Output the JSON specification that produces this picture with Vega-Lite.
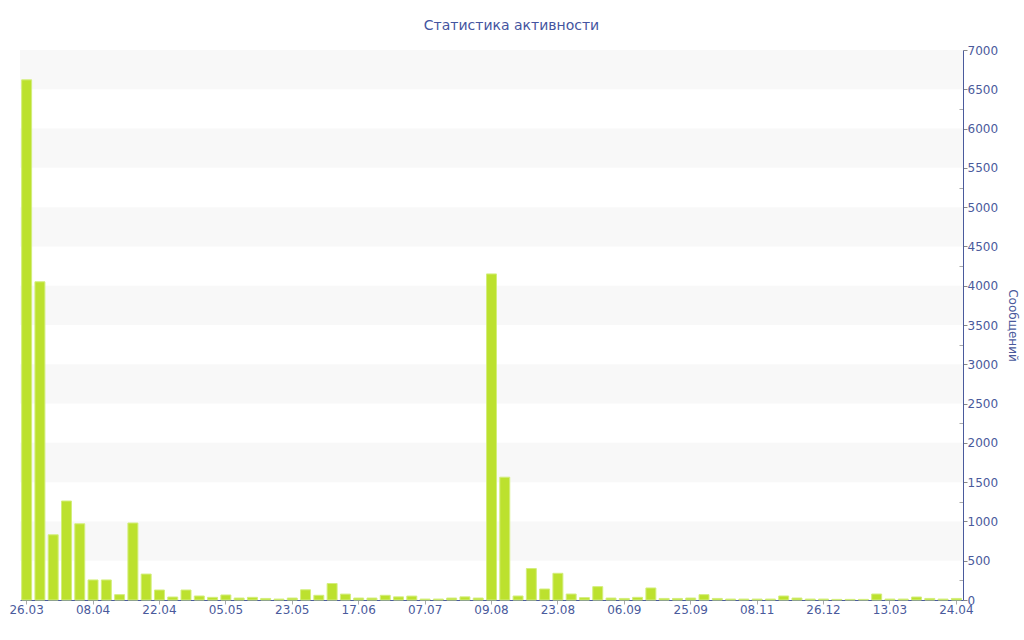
{
  "$schema": "https://vega.github.io/schema/vega-lite/v6.json",
  "width": 943,
  "height": 550,
  "autosize": {"type": "none"},
  "padding": {"left": 20, "top": 50, "right": 61, "bottom": 40},
  "background": "white",
  "title": {
    "text": "Статистика активности",
    "font": "DejaVu Sans",
    "fontSize": 14,
    "fontWeight": "normal",
    "color": "#4454a0",
    "offset": 11,
    "dx": 20
  },
  "config": {
    "view": {"stroke": null},
    "axis": {"labelFont": "DejaVu Sans", "titleFont": "DejaVu Sans"},
    "axisY": {
      "orient": "right",
      "labelOverlap": false,
      "grid": false,
      "domainColor": "#4a5a9c",
      "labelColor": "#4a5a9c",
      "labelFontSize": 12,
      "labelPadding": 0,
      "titleColor": "#4a5a9c",
      "titleFontSize": 12,
      "titleFontWeight": "normal",
      "titlePadding": 8
    }
  },
  "datasets": {
    "bands": [
      {"lo": 500, "hi": 1000},
      {"lo": 1500, "hi": 2000},
      {"lo": 2500, "hi": 3000},
      {"lo": 3500, "hi": 4000},
      {"lo": 4500, "hi": 5000},
      {"lo": 5500, "hi": 6000},
      {"lo": 6500, "hi": 7000}
    ],
    "msgs": [
      {"i": 0, "d": "26.03", "v": 6620},
      {"i": 1, "d": "#1", "v": 4050},
      {"i": 2, "d": "#2", "v": 830},
      {"i": 3, "d": "#3", "v": 1260},
      {"i": 4, "d": "#4", "v": 970},
      {"i": 5, "d": "08.04", "v": 255},
      {"i": 6, "d": "#6", "v": 255},
      {"i": 7, "d": "#7", "v": 68},
      {"i": 8, "d": "#8", "v": 980},
      {"i": 9, "d": "#9", "v": 330},
      {"i": 10, "d": "22.04", "v": 127},
      {"i": 11, "d": "#11", "v": 38},
      {"i": 12, "d": "#12", "v": 127},
      {"i": 13, "d": "#13", "v": 51},
      {"i": 14, "d": "#14", "v": 34},
      {"i": 15, "d": "05.05", "v": 64},
      {"i": 16, "d": "#16", "v": 25},
      {"i": 17, "d": "#17", "v": 34},
      {"i": 18, "d": "#18", "v": 20},
      {"i": 19, "d": "#19", "v": 12},
      {"i": 20, "d": "23.05", "v": 25},
      {"i": 21, "d": "#21", "v": 130},
      {"i": 22, "d": "#22", "v": 60},
      {"i": 23, "d": "#23", "v": 210},
      {"i": 24, "d": "#24", "v": 75},
      {"i": 25, "d": "17.06", "v": 25},
      {"i": 26, "d": "#26", "v": 25},
      {"i": 27, "d": "#27", "v": 60},
      {"i": 28, "d": "#28", "v": 40},
      {"i": 29, "d": "#29", "v": 50},
      {"i": 30, "d": "07.07", "v": 12},
      {"i": 31, "d": "#31", "v": 12},
      {"i": 32, "d": "#32", "v": 25},
      {"i": 33, "d": "#33", "v": 40},
      {"i": 34, "d": "#34", "v": 25},
      {"i": 35, "d": "09.08", "v": 4150},
      {"i": 36, "d": "#36", "v": 1563},
      {"i": 37, "d": "#37", "v": 51},
      {"i": 38, "d": "#38", "v": 400},
      {"i": 39, "d": "#39", "v": 140},
      {"i": 40, "d": "23.08", "v": 340},
      {"i": 41, "d": "#41", "v": 76},
      {"i": 42, "d": "#42", "v": 30},
      {"i": 43, "d": "#43", "v": 170},
      {"i": 44, "d": "#44", "v": 25},
      {"i": 45, "d": "06.09", "v": 20},
      {"i": 46, "d": "#46", "v": 34},
      {"i": 47, "d": "#47", "v": 153},
      {"i": 48, "d": "#48", "v": 20},
      {"i": 49, "d": "#49", "v": 20},
      {"i": 50, "d": "25.09", "v": 25},
      {"i": 51, "d": "#51", "v": 68},
      {"i": 52, "d": "#52", "v": 20},
      {"i": 53, "d": "#53", "v": 12},
      {"i": 54, "d": "#54", "v": 12},
      {"i": 55, "d": "08.11", "v": 12},
      {"i": 56, "d": "#56", "v": 12},
      {"i": 57, "d": "#57", "v": 51},
      {"i": 58, "d": "#58", "v": 25},
      {"i": 59, "d": "#59", "v": 12},
      {"i": 60, "d": "26.12", "v": 12},
      {"i": 61, "d": "#61", "v": 8},
      {"i": 62, "d": "#62", "v": 8},
      {"i": 63, "d": "#63", "v": 8},
      {"i": 64, "d": "#64", "v": 76},
      {"i": 65, "d": "13.03", "v": 12},
      {"i": 66, "d": "#66", "v": 12},
      {"i": 67, "d": "#67", "v": 38},
      {"i": 68, "d": "#68", "v": 20},
      {"i": 69, "d": "#69", "v": 12},
      {"i": 70, "d": "24.04", "v": 20}
    ]
  },
  "layer": [
    {
      "data": {"name": "bands"},
      "mark": {"type": "rect", "color": "#f8f8f8"},
      "encoding": {
        "y": {
          "field": "lo", "type": "quantitative",
          "scale": {"domain": [0, 7000], "nice": false},
          "axis": {
            "title": "Сообщений",
            "values": [0,250,500,750,1000,1250,1500,1750,2000,2250,2500,2750,3000,3250,3500,3750,4000,4250,4500,4750,5000,5250,5500,5750,6000,6250,6500,6750,7000],
            "labelExpr": "datum.value % 500 === 0 ? format(datum.value, 'd') : ''",
            "tickColor": {"condition": {"test": "datum.value % 500 === 0", "value": "#888888"}, "value": "#aaaaaa"},
            "tickSize": {"condition": {"test": "datum.value % 500 === 0", "value": 4}, "value": -4}
          }
        },
        "y2": {"field": "hi"}
      }
    },
    {
      "data": {"name": "msgs"},
      "mark": {"type": "bar", "fill": "#bce12e", "stroke": "#d3ee7c", "strokeWidth": 1},
      "encoding": {
        "x": {
          "field": "d", "type": "ordinal",
          "sort": {"field": "i"},
          "scale": {"paddingInner": 0.25},
          "axis": {
            "title": null,
            "values": ["26.03","08.04","22.04","05.05","23.05","17.06","07.07","09.08","23.08","06.09","25.09","08.11","26.12","13.03","24.04"],
            "labelAngle": 0,
            "domainColor": "#4a5a9c",
            "tickColor": "#aaaaaa",
            "tickSize": 4,
            "labelColor": "#4a5a9c",
            "labelFontSize": 12,
            "labelPadding": 0
          }
        },
        "y": {
          "field": "v", "type": "quantitative",
          "axis": {
            "title": "Сообщений",
            "values": [0,250,500,750,1000,1250,1500,1750,2000,2250,2500,2750,3000,3250,3500,3750,4000,4250,4500,4750,5000,5250,5500,5750,6000,6250,6500,6750,7000],
            "labelExpr": "datum.value % 500 === 0 ? format(datum.value, 'd') : ''",
            "tickColor": {"condition": {"test": "datum.value % 500 === 0", "value": "#888888"}, "value": "#aaaaaa"},
            "tickSize": {"condition": {"test": "datum.value % 500 === 0", "value": 4}, "value": -4}
          }
        }
      }
    }
  ]
}
